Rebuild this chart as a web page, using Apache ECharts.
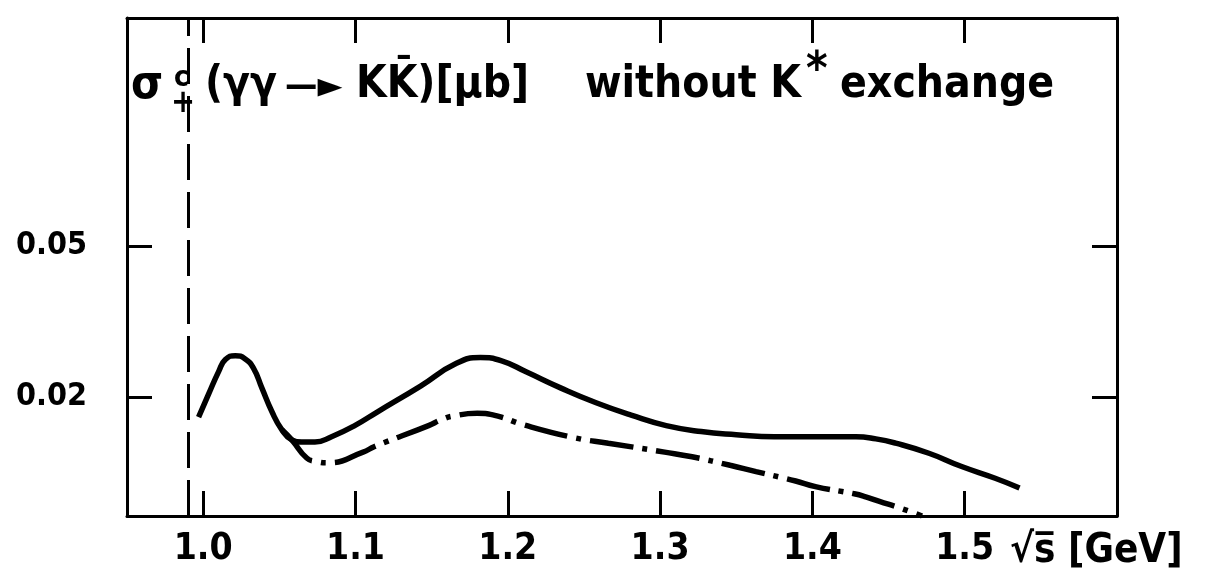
<!DOCTYPE html>
<html><head><meta charset="utf-8">
<script src="https://cdn.jsdelivr.net/npm/echarts@6/dist/echarts.min.js"></script>
<style>html,body{margin:0;padding:0;background:#fff}#c{width:1221px;height:572px}</style>
</head><body><div id="c"></div>
<script>
// ---- data ----
const xTicks = [1.0, 1.1, 1.2, 1.3, 1.4, 1.5];
const yTicks = [0.02, 0.05];
const threshold = 0.987; // vertical dashed line (K Kbar threshold)

const solidX = [0.997, 1.0037, 1.0103, 1.0146, 1.0211, 1.0276, 1.0331, 1.0386, 1.0451, 1.0516, 1.0582, 1.0647, 1.0734,
                1.0843, 1.0995, 1.1148, 1.143, 1.166, 1.182, 1.196, 1.212, 1.235, 1.258, 1.281, 1.304, 1.327, 1.350,
                1.375, 1.400, 1.4286, 1.4417, 1.4547, 1.4765, 1.498, 1.520, 1.536];
const solidY = [0.0177, 0.0204, 0.0234, 0.0251, 0.0257, 0.0252, 0.0238, 0.0211, 0.0183, 0.0164, 0.0154, 0.0152, 0.0152,
                0.0157, 0.0168, 0.0183, 0.0214, 0.0245, 0.0254, 0.0249, 0.0233, 0.0211, 0.0193, 0.0179, 0.0168, 0.0162, 0.0159,
                0.0157, 0.0157, 0.0157, 0.0155, 0.0151, 0.0142, 0.0131, 0.0122, 0.0115];

const dashX = [1.0516, 1.0582, 1.068, 1.0745, 1.0822, 1.105, 1.1126, 1.148, 1.1562, 1.164, 1.180, 1.1935, 1.210, 1.244, 1.266,
               1.303, 1.321, 1.346, 1.363, 1.378, 1.389, 1.402, 1.4275, 1.435, 1.444, 1.457, 1.472];
const dashY = [0.0164, 0.0154, 0.0138, 0.0135, 0.0134, 0.0143, 0.0148, 0.0168, 0.0174, 0.0178, 0.0181, 0.0178, 0.0169, 0.0156, 0.0151,
               0.0143, 0.0139, 0.0132, 0.0127, 0.0123, 0.0120, 0.0116, 0.0111, 0.0109, 0.0106, 0.0102, 0.0097];

const xMin = 0.95, xMax = 1.6, yMin = 0.0097, yMax = 0.2;

// ---- chart ----
const zip = (xs, ys) => xs.map((x, i) => [x, ys[i]]);
const TF = '"DejaVu Sans Condensed", "DejaVu Sans", sans-serif';
const black = '#000';
const axisLine = {show: true, onZero: false, lineStyle: {color: black, width: 3}};
const tick = (vals) => ({show: true, inside: true, length: 25, customValues: vals, lineStyle: {color: black, width: 3}});

const chart = echarts.init(document.getElementById('c'), null, {renderer: 'canvas'});
chart.setOption({
  animation: false,
  backgroundColor: '#fff',
  grid: {left: 127, right: 104, top: 18, bottom: 55},
  xAxis: [
    {type: 'value', min: xMin, max: xMax, position: 'bottom', axisLine, axisTick: tick(xTicks),
     splitLine: {show: false},
     axisLabel: {customValues: xTicks, formatter: v => v.toFixed(1), fontSize: 37, fontFamily: TF, fontWeight: 'bold', color: black, margin: 15},
     name: '\u221As\u0305 [GeV]', nameLocation: 'end', nameGap: -107,
     nameTextStyle: {fontSize: 40, fontFamily: TF, fontWeight: 'bold', color: black, align: 'left', verticalAlign: 'top', padding: [16, 0, 0, 0]}},
    {type: 'value', min: xMin, max: xMax, position: 'top', axisLine, axisTick: tick(xTicks),
     axisLabel: {show: false}, splitLine: {show: false}}
  ],
  yAxis: [
    {type: 'log', logBase: 10, min: yMin, max: yMax, position: 'left', axisLine, axisTick: tick(yTicks),
     minorTick: {show: false}, splitLine: {show: false},
     axisLabel: {customValues: yTicks, formatter: v => Number(v).toFixed(2), fontSize: 32, fontFamily: TF, fontWeight: 'bold', color: black, margin: 40}},
    {type: 'log', logBase: 10, min: yMin, max: yMax, position: 'right', axisLine, axisTick: tick(yTicks),
     minorTick: {show: false}, splitLine: {show: false}, axisLabel: {show: false}}
  ],
  graphic: [
    {type: 'text', x: 131, y: 86, style: {text: '\u03C3', font: 'bold 46px ' + TF, fill: black, align: 'left', verticalAlign: 'middle'}},
    {type: 'text', x: 174, y: 79, style: {text: 'c', font: 'bold 28px ' + TF, fill: black, align: 'left', verticalAlign: 'middle'}},
    {type: 'text', x: 171, y: 104, style: {text: '+', font: 'bold 32px ' + TF, fill: black, align: 'left', verticalAlign: 'middle'}},
    {type: 'text', x: 205, y: 86, style: {text: '(\u03B3\u03B3', font: 'bold 44px ' + TF, fill: black, align: 'left', verticalAlign: 'middle'}},
    {type: 'text', x: 285, y: 88, style: {text: '\u2014\u25BA', font: 'bold 36px ' + TF, fill: black, align: 'left', verticalAlign: 'middle'}},
    {type: 'text', x: 356, y: 86, style: {text: 'KK\u0304)[\u03BCb]', font: 'bold 44px ' + TF, fill: black, align: 'left', verticalAlign: 'middle'}},
    {type: 'text', x: 585, y: 86, style: {text: 'without K', font: 'bold 44px ' + TF, fill: black, align: 'left', verticalAlign: 'middle'}},
    {type: 'text', x: 806, y: 72, style: {text: '*', font: 'bold 46px ' + TF, fill: black, align: 'left', verticalAlign: 'middle'}},
    {type: 'text', x: 840, y: 86, style: {text: 'exchange', font: 'bold 44px ' + TF, fill: black, align: 'left', verticalAlign: 'middle'}}
  ],
  series: [
    {type: 'line', name: 'solid', data: zip(solidX, solidY), smooth: 0.5, showSymbol: false, clip: true,
     lineStyle: {color: black, width: 5.5},
     markLine: {silent: true, symbol: ['none', 'none'], label: {show: false},
                lineStyle: {color: black, width: 3, type: [36, 12]}, data: [{xAxis: threshold}]}},
    {type: 'line', name: 'dashdot', data: zip(dashX, dashY), smooth: 0.5, showSymbol: false, clip: true,
     lineStyle: {color: black, width: 5.5, type: [44, 9, 5, 9]}}
  ]
});
</script>
</body></html>
